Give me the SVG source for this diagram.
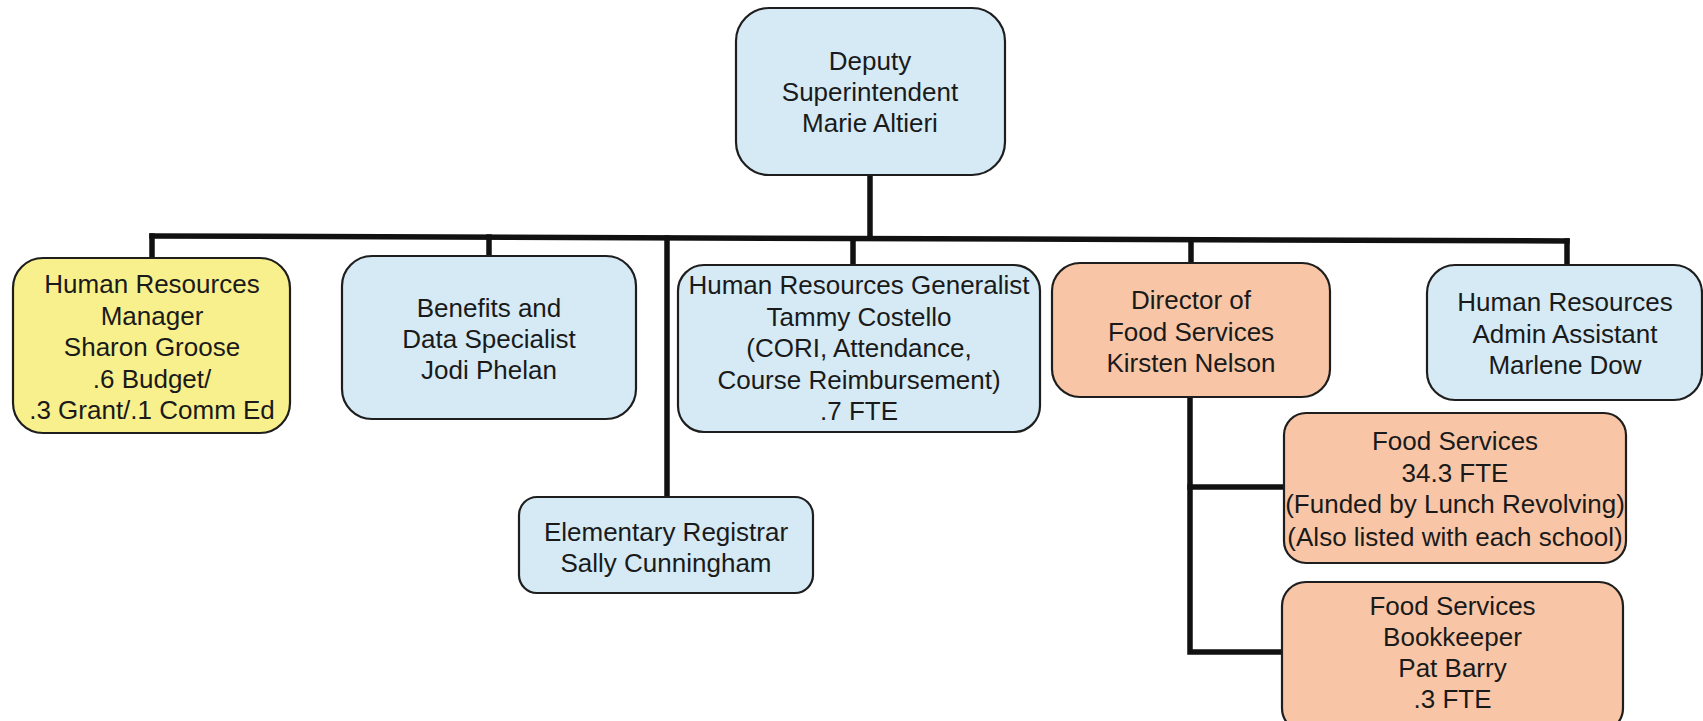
<svg xmlns="http://www.w3.org/2000/svg" width="1703" height="721" viewBox="0 0 1703 721">
  <style>
    .box { stroke: #1e1e1e; stroke-width: 2.2; }
    .blue { fill: #d5eaf5; }
    .yellow { fill: #f8f08c; }
    .orange { fill: #f8c6a6; }
    .lbl { font-family: "Liberation Sans", Arial, sans-serif; font-size: 26px; fill: #1a1a1a; text-anchor: middle; }
    .conn { stroke: #111; stroke-width: 5.5; fill: none; stroke-linejoin: miter; stroke-linecap: square; }
  </style>
  <rect width="1703" height="721" fill="#ffffff"/>

  <!-- reporting lines -->
  <g id="connectors">
    <line class="conn" x1="870" y1="175" x2="870" y2="238"/>
    <line class="conn" x1="152" y1="236" x2="1567" y2="241"/>
    <line class="conn" x1="152" y1="236" x2="152" y2="258"/>
    <line class="conn" x1="489" y1="237" x2="489" y2="256"/>
    <line class="conn" x1="667" y1="238" x2="667" y2="497"/>
    <line class="conn" x1="853" y1="239" x2="853" y2="265"/>
    <line class="conn" x1="1191" y1="240" x2="1191" y2="263"/>
    <line class="conn" x1="1567" y1="241" x2="1567" y2="265"/>
    <path class="conn" d="M1190 397 V652 H1282"/>
    <line class="conn" x1="1190" y1="487" x2="1284" y2="487"/>
  </g>

  <g id="deputy-superintendent">
    <rect class="box blue" x="736" y="8" width="269" height="167" rx="33"/>
    <text class="lbl" x="870" y="70">Deputy</text>
    <text class="lbl" x="870" y="101">Superintendent</text>
    <text class="lbl" x="870" y="132">Marie Altieri</text>
  </g>

  <g id="hr-manager">
    <rect class="box yellow" x="13" y="258" width="277" height="175" rx="30"/>
    <text class="lbl" x="152" y="293">Human Resources</text>
    <text class="lbl" x="152" y="324.5">Manager</text>
    <text class="lbl" x="152" y="356">Sharon Groose</text>
    <text class="lbl" x="152" y="387.5">.6 Budget/</text>
    <text class="lbl" x="152" y="419">.3 Grant/.1 Comm Ed</text>
  </g>

  <g id="benefits-specialist">
    <rect class="box blue" x="342" y="256" width="294" height="163" rx="30"/>
    <text class="lbl" x="489" y="316.5">Benefits and</text>
    <text class="lbl" x="489" y="347.5">Data Specialist</text>
    <text class="lbl" x="489" y="378.5">Jodi Phelan</text>
  </g>

  <g id="hr-generalist">
    <rect class="box blue" x="678" y="265" width="362" height="167" rx="26"/>
    <text class="lbl" x="859" y="294">Human Resources Generalist</text>
    <text class="lbl" x="859" y="325.5">Tammy Costello</text>
    <text class="lbl" x="859" y="357">(CORI, Attendance,</text>
    <text class="lbl" x="859" y="388.5">Course Reimbursement)</text>
    <text class="lbl" x="859" y="420">.7 FTE</text>
  </g>

  <g id="elementary-registrar">
    <rect class="box blue" x="519" y="497" width="294" height="96" rx="18"/>
    <text class="lbl" x="666" y="540.5">Elementary Registrar</text>
    <text class="lbl" x="666" y="571.5">Sally Cunningham</text>
  </g>

  <g id="food-services-director">
    <rect class="box orange" x="1052" y="263" width="278" height="134" rx="28"/>
    <text class="lbl" x="1191" y="309">Director of</text>
    <text class="lbl" x="1191" y="340.5">Food Services</text>
    <text class="lbl" x="1191" y="372">Kirsten Nelson</text>
  </g>

  <g id="hr-admin-assistant">
    <rect class="box blue" x="1427" y="265" width="275" height="135" rx="28"/>
    <text class="lbl" x="1565" y="311">Human Resources</text>
    <text class="lbl" x="1565" y="342.5">Admin Assistant</text>
    <text class="lbl" x="1565" y="374">Marlene Dow</text>
  </g>

  <g id="food-services-staff">
    <rect class="box orange" x="1284" y="413" width="342" height="150" rx="22"/>
    <text class="lbl" x="1455" y="450">Food Services</text>
    <text class="lbl" x="1455" y="481.5">34.3 FTE</text>
    <text class="lbl" x="1455" y="513">(Funded by Lunch Revolving)</text>
    <text class="lbl" x="1455" y="545.5">(Also listed with each school)</text>
  </g>

  <g id="food-services-bookkeeper">
    <rect class="box orange" x="1282" y="582" width="341" height="150" rx="24"/>
    <text class="lbl" x="1452.5" y="615">Food Services</text>
    <text class="lbl" x="1452.5" y="646">Bookkeeper</text>
    <text class="lbl" x="1452.5" y="677">Pat Barry</text>
    <text class="lbl" x="1452.5" y="708">.3 FTE</text>
  </g>
</svg>
